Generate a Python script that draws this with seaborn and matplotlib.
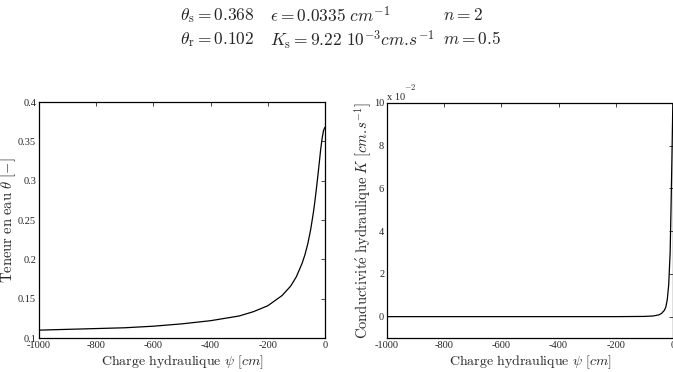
import numpy as np
import pandas as pd
import matplotlib
matplotlib.use("Agg")
import matplotlib.pyplot as plt
import seaborn as sns

# Courbe de retention theta(psi)
PSI_THETA = [-1000, -900, -800, -700, -600, -500, -400, -300, -250, -200,
             -150, -120, -100, -80, -70, -60, -50, -40, -35, -30,
             -25, -20, -15, -10, -5, 0]
THETA = [0.110, 0.111, 0.112, 0.113, 0.115, 0.118, 0.122, 0.128, 0.1335, 0.141,
         0.154, 0.166, 0.178, 0.195, 0.206, 0.220, 0.238, 0.261, 0.275, 0.290,
         0.306, 0.323, 0.340, 0.354, 0.364, 0.368]

# Conductivite hydraulique K(psi)
PSI_K = [-1000, -800, -600, -400, -200, -100, -70, -50, -40, -30,
         -25, -20, -15, -10, -7, -5, -3, -1, 0]
K = [0.0, 0.0, 0.0, 0.0, 0.0, 0.0001, 0.0003, 0.0008, 0.0015, 0.003,
     0.0045, 0.008, 0.015, 0.030, 0.050, 0.065, 0.080, 0.097, 0.105]

X_TICKS = [-1000, -800, -600, -400, -200, 0]
THETA_TICKS = [0.1, 0.15, 0.2, 0.25, 0.3, 0.35, 0.4]
THETA_TICKLABELS = ['0.1', '0.15', '0.2', '0.25', '0.3', '0.35', '0.4']
K_TICKS = [0.0, 0.02, 0.04, 0.06, 0.08, 0.10]
K_TICKLABELS = ['0', '2', '4', '6', '8', '10']

df_theta = pd.DataFrame({'psi': PSI_THETA, 'theta': THETA})
df_k = pd.DataFrame({'psi': PSI_K, 'K': K})

sns.set_style("white")
plt.rcParams['font.family'] = ['Liberation Serif', 'DejaVu Serif']
plt.rcParams['mathtext.fontset'] = 'cm'

fig = plt.figure(figsize=(6.73, 3.72), dpi=100)
ax1 = fig.add_axes([39 / 673, 34 / 372, 286 / 673, 236 / 372])
ax2 = fig.add_axes([387 / 673, 34 / 372, 286 / 673, 235 / 372])

sns.lineplot(data=df_theta, x='psi', y='theta', ax=ax1, color='black', lw=0.9)
sns.lineplot(data=df_k, x='psi', y='K', ax=ax2, color='black', lw=0.9)

for ax in (ax1, ax2):
    ax.set_xlim(-1000, 0)
    ax.set_xticks(X_TICKS)
    ax.set_xticklabels([str(t) for t in X_TICKS])
    ax.tick_params(direction='in', top=True, right=True, length=3, width=0.6,
                   labelsize=7.5, pad=2)
    for s in ax.spines.values():
        s.set_linewidth(0.9)
        s.set_color('black')
    ax.set_xlabel(r'$\mathrm{Charge\ hydraulique}\ \psi\ [cm]$', fontsize=10, labelpad=3)

ax1.set_ylim(0.1, 0.4)
ax1.set_yticks(THETA_TICKS)
ax1.set_yticklabels(THETA_TICKLABELS)
ax1.set_ylabel(r'$\mathrm{Teneur\ en\ eau}\ \theta\ [-]$', fontsize=10.5)
ax1.yaxis.set_label_coords(-0.073, 0.5)

ax2.set_ylim(-0.01, 0.1)
ax2.set_yticks(K_TICKS)
ax2.set_yticklabels(K_TICKLABELS)
ax2.set_ylabel(r'$\mathrm{Conductivit\acute{e}\ hydraulique}\ K\ [cm.\!s^{-1}]$',
               fontsize=10.5)
ax2.yaxis.set_label_coords(-0.045, 0.5)
ax2.text(0.0, 1.003, 'x 10', transform=ax2.transAxes, fontsize=7.5, ha='left', va='bottom')
ax2.text(0.058, 1.045, r'$-2$', transform=ax2.transAxes, fontsize=6, ha='left', va='bottom')

# En-tete des parametres
fs = 12.5
fig.text(180 / 673, 1 - 16 / 372, r'$\theta_{\mathrm{s}}=0.368$', fontsize=fs, va='center')
fig.text(270 / 673, 1 - 16 / 372, r'$\epsilon=0.0335\ cm^{-1}$', fontsize=fs, va='center')
fig.text(443 / 673, 1 - 16 / 372, r'$n=2$', fontsize=fs, va='center')
fig.text(180 / 673, 1 - 40 / 372, r'$\theta_{\mathrm{r}}=0.102$', fontsize=fs, va='center')
fig.text(270 / 673, 1 - 40 / 372, r'$K_{\mathrm{s}}=9.22\ 10^{-3}cm.\!s^{-1}$', fontsize=fs, va='center')
fig.text(443 / 673, 1 - 40 / 372, r'$m=0.5$', fontsize=fs, va='center')

fig.savefig('out.png', dpi=100)
